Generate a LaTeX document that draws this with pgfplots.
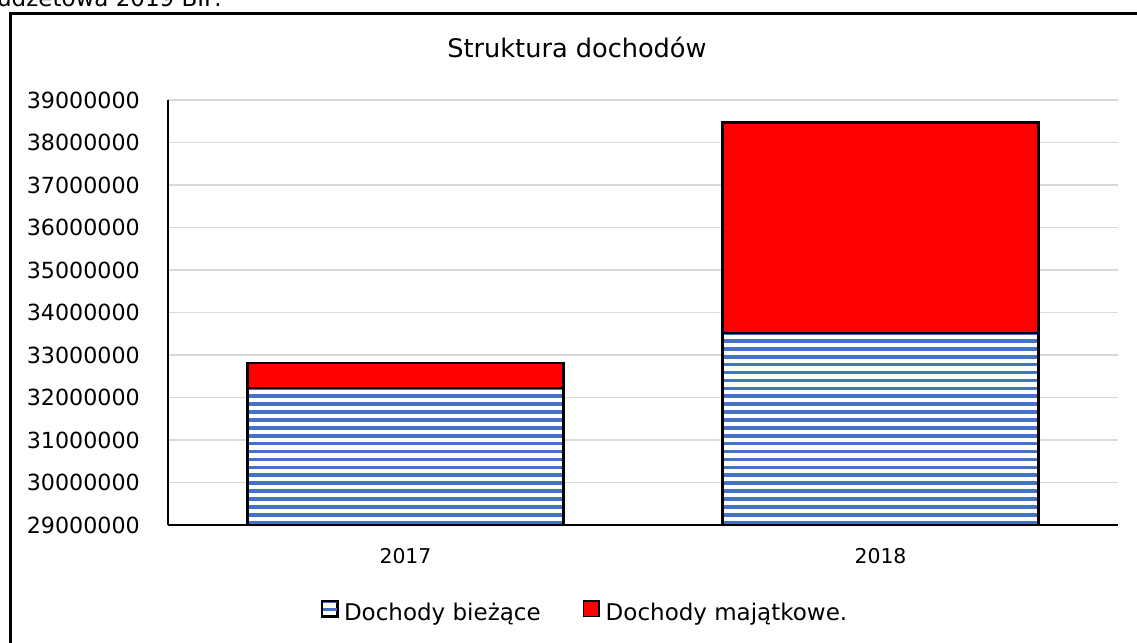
\documentclass[border=0pt]{standalone}
\usepackage{fontspec}
\setmainfont{DejaVu Sans}
\usepackage{pgfplots}
\pgfplotsset{compat=1.18}
\usetikzlibrary{patterns}

\definecolor{stripeblue}{HTML}{4472C4}
\definecolor{gridgray}{HTML}{D9D9D9}

% horizontal stripes, wide tiles that overlap a little so no seams show
\pgfdeclarepatternformonly{hstripes}{\pgfpoint{-1bp}{-0.5bp}}{\pgfpoint{61bp}{8.4bp}}{\pgfpoint{60bp}{7.9bp}}{%
  \pgfpathrectangle{\pgfpoint{-1bp}{0bp}}{\pgfpoint{62bp}{3.6bp}}%
  \pgfusepath{fill}}

\begin{document}
\begin{tikzpicture}[x=1bp,y=1bp]
\useasboundingbox (0,0) rectangle (1137,643);
\clip (0,0) rectangle (1137,643);

% cut-off line of text from the page above, and the chart frame
\node[anchor=base east, inner sep=0pt, font=\fontsize{23bp}{27bp}\selectfont] at (222,636.3) {budżetowa 2019 BIP.};
\draw[line width=3bp] (10,629) rectangle (1200,-50);

\begin{axis}[
    at={(168bp,118bp)}, anchor=south west,
    scale only axis, width=950bp, height=425bp,
    xmin=-0.5, xmax=1.5,
    ymin=29000000, ymax=39000000,
    ybar stacked, bar width=316bp,
    xtick={0,1}, xticklabels={2017,2018},
    ytick={29000000,30000000,31000000,32000000,33000000,34000000,35000000,36000000,37000000,38000000,39000000},
    scaled y ticks=false,
    major tick length=0pt,
    axis x line*=bottom, axis y line*=left,
    axis line style={-, black, line width=2bp},
    ymajorgrids, grid style={gridgray, line width=1.5bp},
    yticklabel style={inner sep=0pt, anchor=east, xshift=-28bp,
        font=\fontsize{22.2bp}{26bp}\selectfont,
        /pgf/number format/.cd, fixed, precision=0, 1000 sep={}, assume math mode=true},
    xticklabel style={inner sep=0pt, anchor=north, yshift=-22.7bp,
        font=\fontsize{20.4bp}{24bp}\selectfont},
    title={Struktura dochodów},
    title style={at={(0.4305,1.1106)}, anchor=center, inner sep=0pt,
        font=\fontsize{25.6bp}{30bp}\selectfont},
    legend columns=2,
    legend style={draw=none, fill=none, at={(0.438,-0.2024)}, anchor=center,
        nodes={inner sep=0pt, font=\fontsize{23bp}{27bp}\selectfont},
        /tikz/every odd column/.append style={column sep=6bp},
        /tikz/every even column/.append style={column sep=42bp}},
    legend image code/.code={\draw[#1, line width=1.5bp] (0bp,-4.5bp) rectangle (15.5bp,11bp);},
]
\addplot[draw=black, line width=2.5bp, preaction={fill=white},
    pattern=hstripes, pattern color=stripeblue]
    coordinates {(0,32220000) (1,33520000)};
\addplot[draw=black, line width=2.5bp, fill=red]
    coordinates {(0,590000) (1,4950000)};
\legend{Dochody bieżące, Dochody majątkowe.}
\end{axis}
\end{tikzpicture}
\end{document}
